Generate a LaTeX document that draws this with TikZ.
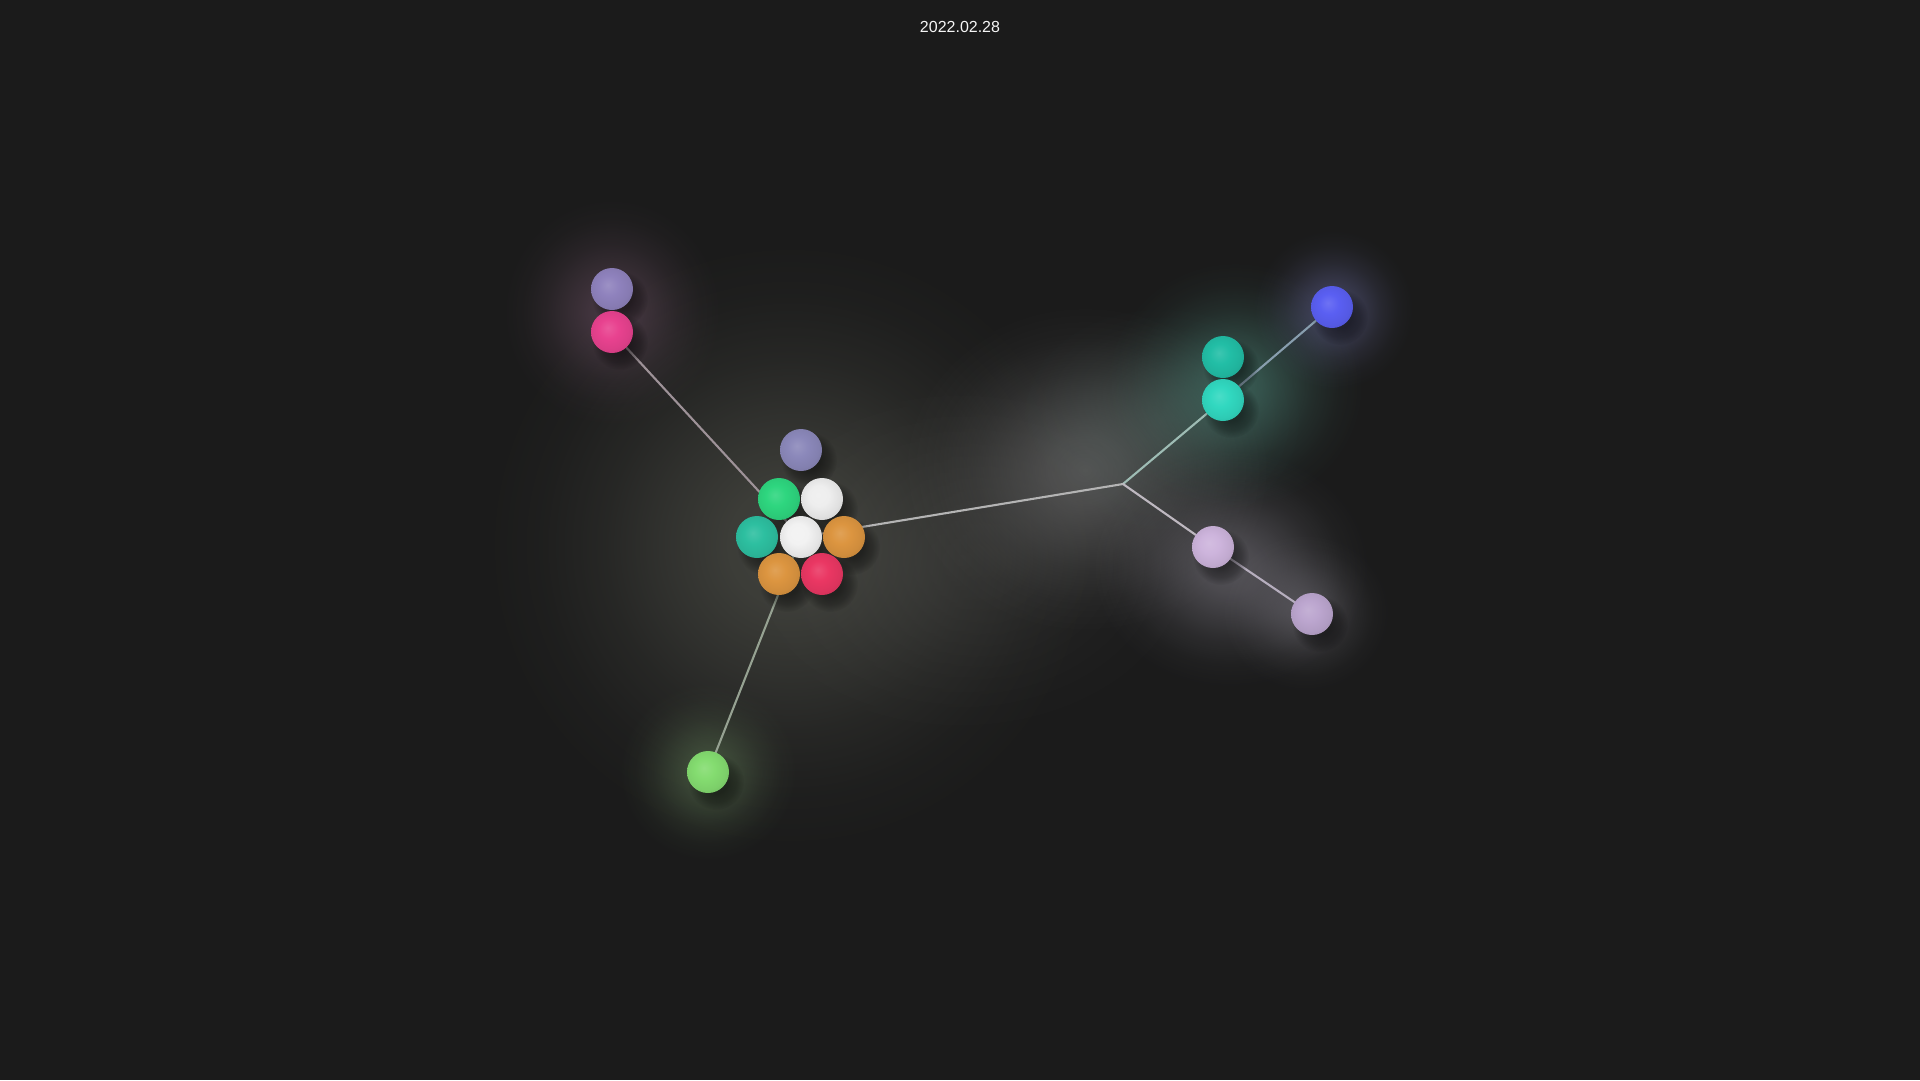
\documentclass[tikz,border=0pt]{standalone}
\usepackage{fontspec}
\setmainfont{Liberation Sans}
\usetikzlibrary{fadings}
\pgfdeclarelayer{glow}
\pgfdeclarelayer{lines}
\pgfdeclarelayer{shadows}
\pgfsetlayers{glow,lines,shadows,main}

\definecolor{bg}{HTML}{1B1B1B}
\colorlet{sballc}{gray}
% ball colours
\definecolor{kcp}{HTML}{8B88BA}
\definecolor{kcg}{HTML}{2ED67F}
\definecolor{kcw}{HTML}{EEEEEE}
\definecolor{kct}{HTML}{2DBFA0}
\definecolor{kcc}{HTML}{F2F2F2}
\definecolor{kco}{HTML}{DC9540}
\definecolor{kcr}{HTML}{EA3763}
\definecolor{ktlp}{HTML}{8F82BD}
\definecolor{kpk}{HTML}{E8428F}
\definecolor{ktt}{HTML}{22BEA6}
\definecolor{ktb}{HTML}{31D8C0}
\definecolor{kbl}{HTML}{5A5FF2}
\definecolor{klv1}{HTML}{CDB4DC}
\definecolor{klv2}{HTML}{BCA6CF}
\definecolor{kgb}{HTML}{84DC70}
% glow colours
\definecolor{gcl}{HTML}{62645A}
\definecolor{gmid}{HTML}{5A5A58}
\definecolor{gjn}{HTML}{707070}
\definecolor{glv}{HTML}{9A96A2}
\definecolor{gtl}{HTML}{4E8C7E}
\definecolor{gtl2}{HTML}{566C66}
\definecolor{gbl}{HTML}{6E70A8}
\definecolor{gpk}{HTML}{7E5C74}
\definecolor{ggr}{HTML}{6E9062}
% line colours
\definecolor{lpk}{HTML}{9E9298}
\definecolor{lgr}{HTML}{96A292}
\definecolor{lmain}{HTML}{B4B4B4}
\definecolor{ltl}{HTML}{9EBCB4}
\definecolor{lbl}{HTML}{889EAE}
\definecolor{llv}{HTML}{BEB8C0}
\definecolor{llv2}{HTML}{B6AEBE}

% soft (gaussian-like) glow fading
\pgfdeclareradialshading{glowshade}{\pgfpointorigin}{color(0bp)=(white); color(5bp)=(white!85!black); color(10bp)=(white!58!black); color(15bp)=(white!30!black); color(20bp)=(white!10!black); color(25bp)=(black); color(50bp)=(black)}
\pgfdeclarefading{softglow}{\pgfuseshading{glowshade}}
% shadow fading
\pgfdeclareradialshading{shadowshade}{\pgfpointorigin}{color(0bp)=(white); color(10bp)=(white!90!black); color(18bp)=(white!55!black); color(25bp)=(black); color(50bp)=(black)}
\pgfdeclarefading{softshadow}{\pgfuseshading{shadowshade}}
% soft ball shading
\pgfdeclareradialshading[sballc]{softball}{\pgfpoint{-5bp}{5bp}}{color(0bp)=(sballc!88!white); color(12bp)=(sballc); color(24bp)=(sballc!94!black); color(31bp)=(sballc!86!black); color(50bp)=(sballc!86!black)}

\tikzset{
  ball/.style={circle, inner sep=0pt, minimum size=42pt, shade, shading=softball, /utils/exec={\colorlet{sballc}{#1}}},
  link/.style={line width=2.1pt, line cap=round},
  shadowfill/.style={fill=black, fill opacity=0.5, path fading=softshadow},
}
\newcommand\myglow[5]{\fill[path fading=softglow, fill=#4, fill opacity=#5] (#1) circle [x radius=#2pt, y radius=#3pt];}

\begin{document}
\begin{tikzpicture}[x=1pt, y=-1pt]
\useasboundingbox (0,0) rectangle (1920,1080);

% ---------- nodes ----------
\node[ball=kcp] (cp)  at (801,450) {};
\node[ball=kcg] (cg)  at (779,499) {};
\node[ball=kcw] (cw)  at (822,499) {};
\node[ball=kct] (ct)  at (757,537) {};
\node[ball=kcc] (cc)  at (801,537) {};
\node[ball=kco] (co1) at (844,537) {};
\node[ball=kco] (co2) at (779,574) {};
\node[ball=kcr] (cr)  at (822,574) {};
\node[ball=ktlp] (tlp) at (612,289) {};
\node[ball=kpk]  (pk)  at (612,332) {};
\node[ball=ktt]  (tt)  at (1223,357) {};
\node[ball=ktb]  (tb)  at (1223,400) {};
\node[ball=kbl]  (bl)  at (1332,307) {};
\node[ball=klv1] (lv1) at (1213,547) {};
\node[ball=klv2] (lv2) at (1312,614) {};
\node[ball=kgb]  (gb)  at (708,772) {};
\coordinate (j) at (1123,484);

\node[text=white!96!black, font=\fontsize{16}{19}\selectfont] (title) at (960,26.5) {2022.02.28};

% ---------- background and glows ----------
\begin{pgfonlayer}{glow}
\fill[bg] (0,0) rectangle (1920,1080);
\myglow{790,545}{310}{310}{gcl}{0.55}
\myglow{960,560}{260}{190}{gmid}{0.25}
\myglow{1085,470}{185}{165}{gjn}{0.65}
\myglow{1160,420}{150}{120}{gtl2}{0.35}
\myglow{1230,568}{140}{120}{glv}{0.45}
\myglow{1305,612}{85}{80}{glv}{0.35}
\myglow{1235,385}{130}{125}{gtl}{0.55}
\myglow{1333,310}{80}{80}{gbl}{0.5}
\myglow{612,312}{110}{115}{gpk}{0.45}
\myglow{708,772}{90}{90}{ggr}{0.45}
\end{pgfonlayer}

% ---------- connectors ----------
\begin{pgfonlayer}{lines}
\draw[link, draw=lpk] (cc) -- (pk);
\draw[link, draw=lgr] (cc) -- (gb);
\draw[link, draw=lmain] (cc) -- (j);
\draw[link, draw=ltl] (j) -- (tb);
\draw[link, draw=lbl] (tb) -- (bl);
\draw[link, draw=llv] (j) -- (lv1);
\draw[link, draw=llv2] (lv1) -- (lv2);
\end{pgfonlayer}

% ---------- shadows ----------
\begin{pgfonlayer}{shadows}
\foreach \n in {cp,cg,cw,ct,cc,co1,co2,cr,tlp,pk,tt,tb,bl,lv1,lv2,gb}
  \fill[shadowfill] ([shift={(8,10)}]\n.center) circle (28pt);
\end{pgfonlayer}

\end{tikzpicture}
\end{document}
